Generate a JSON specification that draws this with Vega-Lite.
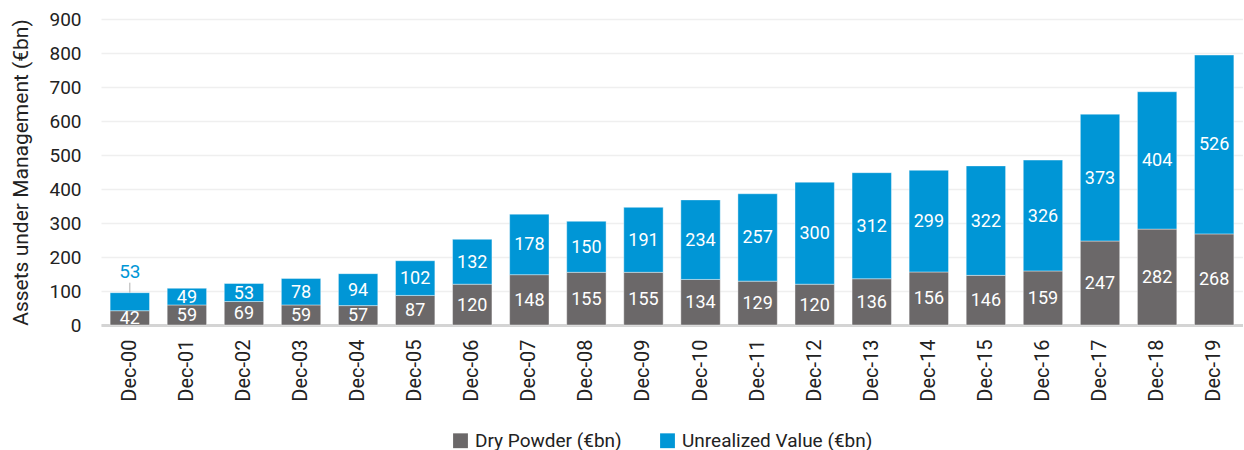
{
  "$schema": "https://vega.github.io/schema/vega-lite/v6.json",
  "width": 1142,
  "height": 306,
  "padding": {"left": 10, "top": 10, "right": 0, "bottom": 2},
  "config": {
    "font": "Roboto",
    "view": {"stroke": null},
    "axis": {"labelFont": "Roboto", "titleFont": "Roboto"},
    "axisY": {
      "titleFontSize": 21, "titleFontWeight": "normal", "titleColor": "#222222", "titlePadding": 17,
      "labelFontSize": 19, "labelColor": "#222222", "labelPadding": 20, "labelOverlap": false,
      "ticks": false, "domain": false, "gridColor": "#efefef", "gridWidth": 1.5
    },
    "legend": {"labelFont": "Roboto"}
  },
  "data": {
    "values": [
      {"period": "Dec-00", "series": "Dry Powder (€bn)", "value": 42},
      {"period": "Dec-01", "series": "Dry Powder (€bn)", "value": 59},
      {"period": "Dec-02", "series": "Dry Powder (€bn)", "value": 69},
      {"period": "Dec-03", "series": "Dry Powder (€bn)", "value": 59},
      {"period": "Dec-04", "series": "Dry Powder (€bn)", "value": 57},
      {"period": "Dec-05", "series": "Dry Powder (€bn)", "value": 87},
      {"period": "Dec-06", "series": "Dry Powder (€bn)", "value": 120},
      {"period": "Dec-07", "series": "Dry Powder (€bn)", "value": 148},
      {"period": "Dec-08", "series": "Dry Powder (€bn)", "value": 155},
      {"period": "Dec-09", "series": "Dry Powder (€bn)", "value": 155},
      {"period": "Dec-10", "series": "Dry Powder (€bn)", "value": 134},
      {"period": "Dec-11", "series": "Dry Powder (€bn)", "value": 129},
      {"period": "Dec-12", "series": "Dry Powder (€bn)", "value": 120},
      {"period": "Dec-13", "series": "Dry Powder (€bn)", "value": 136},
      {"period": "Dec-14", "series": "Dry Powder (€bn)", "value": 156},
      {"period": "Dec-15", "series": "Dry Powder (€bn)", "value": 146},
      {"period": "Dec-16", "series": "Dry Powder (€bn)", "value": 159},
      {"period": "Dec-17", "series": "Dry Powder (€bn)", "value": 247},
      {"period": "Dec-18", "series": "Dry Powder (€bn)", "value": 282},
      {"period": "Dec-19", "series": "Dry Powder (€bn)", "value": 268},
      {"period": "Dec-00", "series": "Unrealized Value (€bn)", "value": 53},
      {"period": "Dec-01", "series": "Unrealized Value (€bn)", "value": 49},
      {"period": "Dec-02", "series": "Unrealized Value (€bn)", "value": 53},
      {"period": "Dec-03", "series": "Unrealized Value (€bn)", "value": 78},
      {"period": "Dec-04", "series": "Unrealized Value (€bn)", "value": 94},
      {"period": "Dec-05", "series": "Unrealized Value (€bn)", "value": 102},
      {"period": "Dec-06", "series": "Unrealized Value (€bn)", "value": 132},
      {"period": "Dec-07", "series": "Unrealized Value (€bn)", "value": 178},
      {"period": "Dec-08", "series": "Unrealized Value (€bn)", "value": 150},
      {"period": "Dec-09", "series": "Unrealized Value (€bn)", "value": 191},
      {"period": "Dec-10", "series": "Unrealized Value (€bn)", "value": 234},
      {"period": "Dec-11", "series": "Unrealized Value (€bn)", "value": 257},
      {"period": "Dec-12", "series": "Unrealized Value (€bn)", "value": 300},
      {"period": "Dec-13", "series": "Unrealized Value (€bn)", "value": 312},
      {"period": "Dec-14", "series": "Unrealized Value (€bn)", "value": 299},
      {"period": "Dec-15", "series": "Unrealized Value (€bn)", "value": 322},
      {"period": "Dec-16", "series": "Unrealized Value (€bn)", "value": 326},
      {"period": "Dec-17", "series": "Unrealized Value (€bn)", "value": 373},
      {"period": "Dec-18", "series": "Unrealized Value (€bn)", "value": 404},
      {"period": "Dec-19", "series": "Unrealized Value (€bn)", "value": 526}
    ]
  },
  "transform": [
    {"calculate": "datum.series === 'Dry Powder (€bn)' ? 0 : 1", "as": "ord"},
    {"stack": "value", "groupby": ["period"], "sort": [{"field": "ord", "order": "ascending"}], "as": ["v0", "v1"]},
    {"calculate": "(datum.v0 + datum.v1) / 2", "as": "mid"}
  ],
  "encoding": {
    "x": {
      "field": "period", "type": "ordinal", "sort": null,
      "scale": {"paddingInner": 0.31, "paddingOuter": 0.16},
      "axis": {
        "title": null, "labelAngle": -90, "labelFontSize": 20, "labelColor": "#222222",
        "ticks": false, "domainColor": "#d4d4d4", "domainWidth": 3, "labelPadding": 14,
        "labelBaseline": "middle", "labelAlign": "right"
      }
    }
  },
  "layer": [
    {
      "mark": {"type": "bar", "stroke": "#ffffff", "strokeOpacity": 0.4, "strokeWidth": 1},
      "encoding": {
        "y": {
          "field": "v0", "type": "quantitative",
          "scale": {"domain": [0, 900], "nice": false},
          "axis": {"title": "Assets under Management (€bn)", "values": [0, 100, 200, 300, 400, 500, 600, 700, 800, 900]}
        },
        "y2": {"field": "v1"},
        "color": {
          "field": "series", "type": "nominal",
          "scale": {"domain": ["Dry Powder (€bn)", "Unrealized Value (€bn)"], "range": ["#6b6869", "#0096d6"]},
          "legend": {
            "title": null, "orient": "none", "legendX": 350, "legendY": 412, "direction": "horizontal", "symbolType": "square",
            "symbolSize": 220, "symbolStrokeWidth": 0, "labelFontSize": 19, "labelColor": "#222222",
            "columnPadding": 36, "labelOffset": 5, "labelLimit": 400
          }
        }
      }
    },
    {
      "transform": [{"filter": "!(datum.period === 'Dec-00' && datum.ord === 1)"}],
      "mark": {"type": "text", "fontSize": 18, "color": "#ffffff", "baseline": "middle", "dy": 1},
      "encoding": {
        "y": {"field": "mid", "type": "quantitative", "axis": {"title": "Assets under Management (€bn)", "values": [0, 100, 200, 300, 400, 500, 600, 700, 800, 900]}},
        "text": {"field": "value", "type": "quantitative"}
      }
    },
    {
      "transform": [{"filter": "datum.period === 'Dec-00' && datum.ord === 1"}],
      "mark": {"type": "rule", "color": "#b0b0b0", "strokeWidth": 1, "y2Offset": -10},
      "encoding": {
        "y": {"field": "v1", "type": "quantitative", "axis": {"title": "Assets under Management (€bn)", "values": [0, 100, 200, 300, 400, 500, 600, 700, 800, 900]}},
        "y2": {"field": "v1"}
      }
    },
    {
      "transform": [{"filter": "datum.period === 'Dec-00' && datum.ord === 1"}],
      "mark": {"type": "text", "fontSize": 19, "color": "#0096d6", "baseline": "bottom", "dy": -11},
      "encoding": {
        "y": {"field": "v1", "type": "quantitative", "axis": {"title": "Assets under Management (€bn)", "values": [0, 100, 200, 300, 400, 500, 600, 700, 800, 900]}},
        "text": {"field": "value", "type": "quantitative"}
      }
    }
  ]
}
